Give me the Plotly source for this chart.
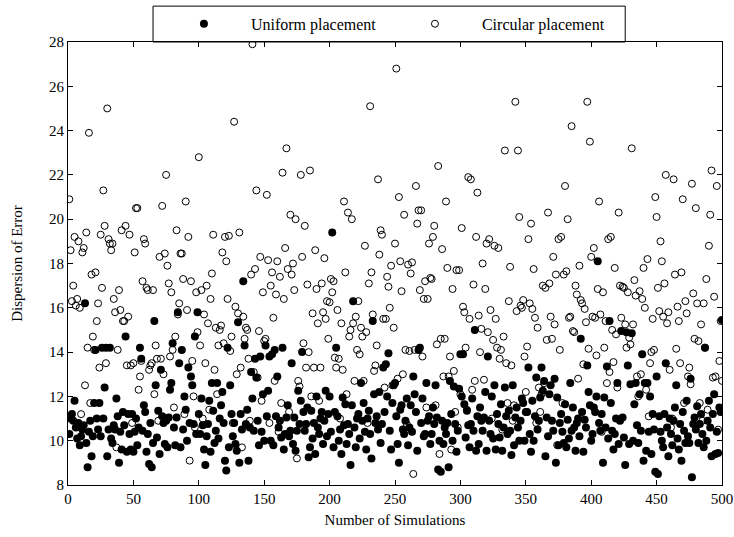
import plotly.graph_objects as go

# Dispersion of error for each simulation run, in blocks of 50 runs.
uniform_1_50 = [10.3, 11.0, 11.2, 10.9, 11.8, 10.6, 10.1, 10.8, 9.8, 10.2,
                10.5, 10.7, 16.2, 9.9, 8.8, 10.4, 10.9, 9.3, 10.2, 11.7,
                14.1, 11.0, 10.5, 11.7, 10.2, 14.2, 11.0, 12.4, 14.2, 9.3,
                10.5, 14.2, 10.1, 9.9, 10.7, 10.5, 11.9, 11.1, 9.0, 10.4,
                9.6, 11.3, 10.7, 14.7, 9.5, 11.2, 10.3, 9.6, 11.2, 9.5]
uniform_51_100 = [10.4, 11.0, 9.8, 10.6, 14.2, 13.7, 10.45, 11.6, 11.3, 9.5,
                  10.3, 8.95, 10.8, 8.8, 9.9, 15.4, 12.5, 10.15, 11.35, 9.4,
                  13.2, 11.1, 10.8, 9.85, 10.9, 9.7, 11.05, 12.3, 12.6, 14.4,
                  10.6, 9.8, 11.05, 15.8, 13.5, 9.7, 14.1, 10.5, 12.0, 11.4,
                  10.0, 13.3, 10.8, 12.9, 12.5, 10.75, 14.7, 10.3, 15.8, 11.2]
uniform_101_150 = [10.3, 11.9, 10.7, 9.6, 8.9, 10.2, 10.75, 11.8, 9.5, 12.6,
                   11.35, 9.9, 10.45, 12.6, 10.1, 11.0, 11.6, 12.2, 10.8, 9.1,
                   8.65, 14.2, 9.7, 12.5, 11.2, 10.2, 10.8, 9.85, 9.55, 15.35,
                   9.0, 11.2, 10.5, 17.2, 14.3, 10.75, 11.4, 9.1, 10.6, 13.1,
                   11.9, 10.45, 13.7, 12.85, 10.9, 9.8, 13.8, 10.4, 12.1, 10.0]
uniform_151_200 = [14.3, 11.1, 12.25, 13.8, 10.0, 13.9, 9.8, 14.1, 11.1, 12.9,
                   10.6, 10.9, 10.15, 14.2, 9.6, 10.3, 11.05, 11.6, 10.2, 10.45,
                   13.5, 9.85, 11.05, 9.55, 10.45, 12.25, 10.75, 11.8, 14.0, 11.3,
                   10.45, 10.75, 11.5, 9.25, 9.7, 11.35, 10.1, 10.8, 9.4, 12.0,
                   10.6, 10.3, 11.0, 11.3, 9.85, 10.9, 12.25, 10.2, 11.2, 12.0]
uniform_201_250 = [10.4, 19.4, 9.7, 11.3, 14.2, 11.1, 10.0, 10.5, 9.4, 11.95,
                   10.7, 11.65, 9.85, 10.75, 10.3, 8.9, 11.6, 16.3, 10.6, 9.7,
                   11.0, 11.2, 10.1, 12.6, 10.9, 11.7, 10.4, 9.6, 11.0, 11.35,
                   10.3, 9.2, 15.4, 12.1, 10.8, 11.1, 10.5, 12.2, 9.9, 10.75,
                   13.3, 11.3, 13.45, 12.0, 13.95, 10.45, 9.6, 11.7, 12.5, 12.6]
uniform_251_300 = [11.1, 9.85, 9.0, 11.4, 11.6, 10.5, 10.3, 10.9, 11.9, 9.8,
                   10.6, 11.6, 10.4, 12.9, 12.1, 11.3, 9.55, 14.1, 14.2, 10.8,
                   11.9, 10.2, 10.3, 12.6, 10.9, 11.1, 9.85, 10.3, 11.5, 10.75,
                   12.5, 11.05, 8.7, 10.0, 8.6, 10.9, 9.85, 10.6, 10.3, 10.8,
                   8.8, 12.7, 11.2, 10.0, 12.45, 10.75, 9.5, 10.45, 12.35, 13.9]
uniform_301_350 = [12.0, 13.9, 11.65, 10.15, 11.35, 10.7, 9.7, 10.75, 11.9, 10.45,
                   15.0, 9.55, 11.1, 9.85, 11.5, 10.9, 10.45, 11.05, 12.2, 9.55,
                   13.8, 10.9, 10.3, 12.0, 10.1, 12.5, 9.6, 11.2, 10.75, 10.15,
                   11.65, 9.55, 10.6, 12.4, 11.1, 10.3, 11.35, 10.45, 9.35, 12.5,
                   9.8, 11.05, 11.5, 10.6, 10.0, 10.9, 11.9, 11.7, 10.0, 11.3]
uniform_351_400 = [11.3, 13.3, 10.3, 9.5, 11.8, 10.0, 11.1, 12.85, 10.5, 10.9,
                   11.95, 13.3, 12.25, 12.7, 9.3, 11.05, 10.2, 12.1, 12.5, 10.9,
                   10.45, 12.8, 9.0, 11.95, 9.8, 10.8, 11.2, 10.4, 9.9, 11.65,
                   9.7, 10.95, 10.1, 12.6, 10.45, 11.5, 10.6, 9.55, 10.8, 11.0,
                   10.2, 14.6, 11.3, 9.5, 10.95, 10.6, 13.4, 12.2, 11.6, 10.0]
uniform_401_450 = [10.3, 11.5, 11.3, 12.0, 18.1, 10.8, 10.45, 11.2, 9.0, 11.95,
                   10.6, 13.35, 10.1, 15.4, 11.7, 10.45, 9.6, 10.3, 11.0, 12.6,
                   9.85, 10.9, 14.95, 11.05, 10.15, 8.9, 14.9, 13.4, 9.85, 12.55,
                   14.85, 10.0, 11.65, 12.6, 10.7, 9.9, 12.1, 10.45, 13.9, 9.1,
                   12.6, 9.55, 12.6, 10.4, 12.0, 9.4, 11.2, 10.5, 8.6, 12.9]
uniform_451_500 = [8.5, 11.1, 10.4, 10.0, 9.7, 11.2, 13.5, 10.6, 9.3, 11.0,
                   10.3, 9.8, 10.9, 11.5, 12.5, 10.1, 9.6, 10.75, 9.1, 11.3,
                   10.45, 9.9, 11.8, 10.2, 9.9, 12.8, 8.35, 10.75, 11.05, 10.5,
                   11.55, 9.9, 10.75, 11.2, 10.3, 9.7, 14.2, 10.0, 10.9, 11.8,
                   10.6, 9.3, 11.2, 12.1, 9.4, 10.4, 9.45, 11.5, 11.3, 15.45]

circular_1_50 = [20.9, 18.6, 16.3, 17.0, 19.2, 16.1, 16.4, 19.0, 16.0, 11.2,
                 18.5, 18.7, 12.5, 19.4, 14.2, 23.9, 11.7, 17.5, 14.7, 14.1,
                 17.6, 15.4, 16.2, 13.3, 19.3, 16.9, 21.3, 19.7, 13.5, 25.0,
                 19.1, 18.9, 18.6, 18.9, 16.4, 15.8, 9.7, 14.1, 16.8, 15.9,
                 19.5, 15.4, 15.4, 19.7, 13.4, 15.6, 19.3, 13.4, 10.8, 13.5]
circular_51_100 = [18.5, 20.5, 20.5, 12.3, 12.9, 13.6, 17.2, 19.1, 18.9, 16.9,
                   16.8, 13.2, 13.4, 13.5, 16.8, 12.1, 14.3, 13.7, 10.9, 18.3,
                   13.7, 20.6, 13.0, 18.45, 22.0, 17.9, 17.1, 13.8, 16.7, 14.1,
                   11.5, 14.7, 19.5, 15.7, 16.2, 18.45, 18.45, 17.3, 11.2, 20.8,
                   15.9, 19.2, 9.1, 17.2, 13.6, 12.0, 10.6, 16.7, 14.9, 22.8]
circular_101_150 = [14.3, 16.8, 11.0, 15.7, 13.5, 17.0, 15.3, 11.4, 16.4, 17.55,
                    19.3, 13.2, 15.1, 12.1, 14.3, 15.0, 15.2, 18.5, 14.4, 19.2,
                    18.1, 16.4, 19.25, 14.05, 14.7, 10.8, 24.4, 16.05, 13.0, 15.75,
                    19.4, 13.3, 9.7, 15.6, 14.6, 15.1, 15.0, 13.7, 10.9, 17.5,
                    27.9, 13.1, 17.75, 21.3, 12.85, 14.95, 18.3, 11.8, 16.7, 14.5]
circular_151_200 = [14.6, 21.1, 18.15, 10.8, 17.0, 17.6, 15.55, 12.7, 16.6, 18.1,
                    10.4, 17.4, 11.7, 22.1, 16.4, 18.7, 23.2, 17.75, 11.3, 20.2,
                    17.5, 18.0, 16.8, 20.0, 9.2, 12.7, 12.45, 22.0, 18.3, 14.4,
                    19.7, 13.3, 17.05, 14.0, 22.2, 12.0, 15.75, 13.3, 18.6, 16.85,
                    15.3, 11.8, 13.3, 17.1, 15.8, 18.24, 15.5, 16.3, 14.6, 16.25]
circular_201_250 = [17.3, 16.7, 17.2, 13.75, 13.3, 15.9, 13.7, 11.0, 15.3, 13.2,
                    20.8, 17.6, 12.1, 20.3, 14.7, 15.0, 20.0, 15.3, 12.7, 15.6,
                    14.1, 16.3, 13.9, 15.1, 14.7, 12.7, 18.8, 14.9, 10.8, 17.1,
                    25.1, 17.6, 15.7, 13.15, 13.4, 14.3, 21.8, 18.4, 19.5, 19.3,
                    15.5, 12.4, 15.5, 17.4, 16.95, 16.0, 17.9, 12.5, 15.1, 18.9]
circular_251_300 = [26.8, 12.8, 21.0, 18.1, 16.75, 13.0, 20.2, 14.1, 10.75, 17.95,
                    14.05, 17.55, 18.05, 8.5, 14.1, 21.5, 19.8, 20.4, 16.8, 20.4,
                    13.8, 16.4, 17.2, 11.5, 16.4, 18.9, 17.35, 17.3, 19.2, 19.7,
                    11.6, 14.35, 22.4, 9.4, 14.6, 18.65, 12.9, 14.6, 20.8, 17.8,
                    12.9, 13.8, 9.6, 16.85, 13.15, 11.3, 17.7, 10.6, 17.7, 12.1]
circular_301_350 = [19.6, 16.05, 15.8, 14.2, 11.4, 21.9, 15.5, 21.8, 12.3, 17.05,
                    12.7, 19.2, 21.2, 15.65, 14.0, 15.05, 18.0, 12.75, 16.85, 18.9,
                    14.9, 19.1, 15.9, 11.0, 14.55, 18.8, 15.5, 14.2, 18.7, 13.7,
                    14.1, 10.5, 14.7, 23.1, 13.5, 11.7, 16.3, 17.85, 13.4, 10.9,
                    11.6, 25.3, 15.85, 23.1, 20.1, 16.1, 16.0, 16.35, 13.8, 12.2]
circular_351_400 = [14.25, 19.1, 16.2, 19.8, 15.95, 17.75, 15.55, 10.8, 15.1, 12.4,
                    11.3, 12.1, 17.0, 12.6, 16.9, 14.55, 20.3, 17.1, 15.6, 14.6,
                    18.3, 15.25, 17.5, 9.8, 19.1, 14.1, 19.2, 11.7, 17.5, 21.5,
                    17.65, 20.0, 15.55, 15.6, 24.2, 14.95, 14.9, 17.0, 16.6, 12.8,
                    17.9, 16.35, 16.2, 13.45, 15.95, 15.35, 25.3, 14.15, 23.5, 18.3]
circular_401_450 = [15.6, 18.7, 15.55, 13.85, 16.85, 20.8, 15.7, 10.4, 16.7, 14.2,
                    15.4, 12.6, 19.1, 13.1, 19.2, 15.0, 13.55, 17.8, 14.8, 12.4,
                    20.3, 17.0, 15.55, 16.95, 16.9, 15.25, 14.2, 16.7, 14.65, 14.35,
                    23.2, 15.25, 17.25, 16.55, 12.9, 12.0, 16.75, 13.0, 16.4, 17.8,
                    16.0, 12.3, 18.2, 11.1, 13.5, 14.0, 15.5, 14.1, 21.0, 20.1]
circular_451_500 = [16.9, 15.85, 19.0, 18.1, 15.6, 17.1, 22.0, 15.3, 15.8, 13.2,
                    10.6, 11.0, 21.8, 17.5, 14.15, 16.05, 15.4, 13.5, 17.6, 20.9,
                    11.7, 16.3, 15.75, 12.9, 13.3, 12.55, 21.6, 16.65, 14.6, 20.5,
                    16.2, 14.5, 11.7, 15.25, 10.9, 16.2, 14.2, 17.3, 11.4, 18.8,
                    20.2, 22.2, 12.85, 16.5, 12.9, 21.5, 10.5, 13.6, 15.4, 12.7]

x_ticks = [0, 50, 100, 150, 200, 250, 300, 350, 400, 450, 500]
y_ticks = [8, 10, 12, 14, 16, 18, 20, 22, 24, 26, 28]

uniform = (uniform_1_50 + uniform_51_100 + uniform_101_150 + uniform_151_200
           + uniform_201_250 + uniform_251_300 + uniform_301_350
           + uniform_351_400 + uniform_401_450 + uniform_451_500)
circular = (circular_1_50 + circular_51_100 + circular_101_150 + circular_151_200
            + circular_201_250 + circular_251_300 + circular_301_350
            + circular_351_400 + circular_401_450 + circular_451_500)
runs = list(range(1, len(uniform) + 1))

FONT = "Liberation Serif, Times New Roman, serif"

fig = go.Figure()
fig.add_trace(go.Scatter(
    x=runs, y=uniform, mode="markers", name="Uniform placement",
    marker=dict(symbol="circle", size=8, color="black", line=dict(width=0)),
))
fig.add_trace(go.Scatter(
    x=runs, y=circular, mode="markers", name="Circular placement",
    marker=dict(symbol="circle-open", size=7, color="black", line=dict(width=1)),
))

axis_style = dict(
    showline=True, linecolor="black", linewidth=1, mirror="ticks",
    ticks="inside", ticklen=5, tickcolor="black", showgrid=False,
    zeroline=False, tickfont=dict(family=FONT, size=15, color="black"),
)

fig.update_layout(
    width=734, height=537,
    margin=dict(l=68, r=12, t=42, b=52, autoexpand=False),
    paper_bgcolor="white", plot_bgcolor="white",
    font=dict(family=FONT, size=15, color="black"),
    hovermode=False,
    xaxis=dict(range=[0, 500], tickvals=x_ticks,
               title=dict(text="Number of Simulations", font=dict(size=15), standoff=8),
               **axis_style),
    yaxis=dict(range=[8, 28], tickvals=y_ticks,
               title=dict(text="Dispersion of Error", font=dict(size=15), standoff=22),
               **axis_style),
    legend=dict(
        orientation="h", x=0.136, xanchor="left", y=1.041, yanchor="middle",
        bgcolor="rgba(0,0,0,0)", borderwidth=0,
        font=dict(family=FONT, size=16, color="black"),
        entrywidth=132, entrywidthmode="pixels", itemwidth=84,
    ),
    shapes=[dict(
        type="rect", xref="paper", yref="paper",
        x0=0.130, x1=0.852, y0=1.0, y1=1.081,
        line=dict(color="black", width=1), fillcolor="white", layer="below",
    )],
)

fig.write_html("out.html", config={"displayModeBar": False})
